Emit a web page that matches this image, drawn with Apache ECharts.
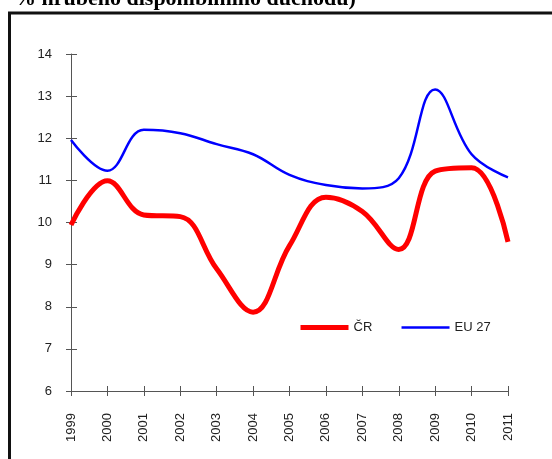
<!DOCTYPE html>
<html>
<head>
<meta charset="utf-8">
<script src="https://cdn.jsdelivr.net/npm/echarts@6/dist/echarts.min.js"></script>
<style>
  html, body { margin: 0; padding: 0; background: #fff; }
  #chart { width: 552px; height: 459px; }
</style>
</head>
<body>
<div id="chart"></div>
<script>
var years = ['1999', '2000', '2001', '2002', '2003', '2004', '2005', '2006', '2007', '2008', '2009', '2010', '2011'];
var cr = [9.94, 10.99, 10.18, 10.14, 8.9, 7.87, 9.45, 10.6, 10.26, 9.36, 11.22, 11.3, 9.54];
var eu27 = [11.96, 11.23, 12.2, 12.12, 11.86, 11.62, 11.13, 10.89, 10.81, 11.05, 13.16, 11.62, 11.07];
var titleText = '% hrubého disponibilního důchodu)';

var chartDom = document.getElementById('chart');
var myChart = echarts.init(chartDom);
var option;

var labelFont = {
  fontFamily: 'Liberation Sans, Arial, sans-serif',
  fontSize: 13,
  color: '#222'
};

option = {
  backgroundColor: '#fff',
  animation: false,
  graphic: [
    {
      type: 'text',
      left: 14,
      top: -12,
      style: {
        text: titleText,
        font: 'bold 22px "Liberation Serif", "Times New Roman", serif',
        fill: '#000'
      }
    },
    {
      type: 'rect',
      shape: { x: 9.5, y: 13, width: 700, height: 600 },
      style: { fill: 'none', stroke: '#111', lineWidth: 3 }
    }
  ],
  legend: {
    left: 293,
    top: 316,
    itemWidth: 48,
    itemHeight: 14,
    itemGap: 28,
    itemStyle: { color: 'transparent', borderWidth: 0 },
    textStyle: labelFont,
    data: [
      { name: 'ČR', lineStyle: { width: 5, color: '#ff0000' } },
      { name: 'EU 27', lineStyle: { width: 2.5, color: '#0000ff' } }
    ]
  },
  grid: {
    left: 71,
    right: 44,
    top: 54,
    bottom: 68
  },
  xAxis: [
    {
      type: 'category',
      boundaryGap: false,
      data: years,
      axisLine: { lineStyle: { color: '#555' } },
      axisTick: { alignWithLabel: true, length: 5, lineStyle: { color: '#555' } },
      axisLabel: Object.assign({ rotate: 90, margin: 22, interval: 0 }, labelFont)
    },
    {
      type: 'category',
      position: 'bottom',
      boundaryGap: false,
      data: years,
      axisLine: { show: false },
      axisTick: { inside: true, length: 5, lineStyle: { color: '#555' } },
      axisLabel: { show: false }
    }
  ],
  yAxis: [
    {
      type: 'value',
      min: 6,
      max: 14,
      interval: 1,
      splitLine: { show: false },
      axisLine: { show: true, lineStyle: { color: '#555' } },
      axisTick: { show: true, length: 5, lineStyle: { color: '#555' } },
      axisLabel: Object.assign({ margin: 19 }, labelFont)
    },
    {
      type: 'value',
      position: 'left',
      min: 6,
      max: 14,
      interval: 1,
      splitLine: { show: false },
      axisLine: { show: false },
      axisTick: { show: true, inside: true, length: 6, lineStyle: { color: '#555' } },
      axisLabel: { show: false }
    }
  ],
  series: [
    {
      name: 'ČR',
      type: 'line',
      smooth: 0.4,
      symbol: 'none',
      data: cr,
      color: '#ff0000',
      lineStyle: { width: 5, color: '#ff0000' }
    },
    {
      name: 'EU 27',
      type: 'line',
      smooth: 0.4,
      symbol: 'none',
      data: eu27,
      color: '#0000ff',
      lineStyle: { width: 2.5, color: '#0000ff' }
    }
  ]
};
option && myChart.setOption(option);
</script>
</body>
</html>
